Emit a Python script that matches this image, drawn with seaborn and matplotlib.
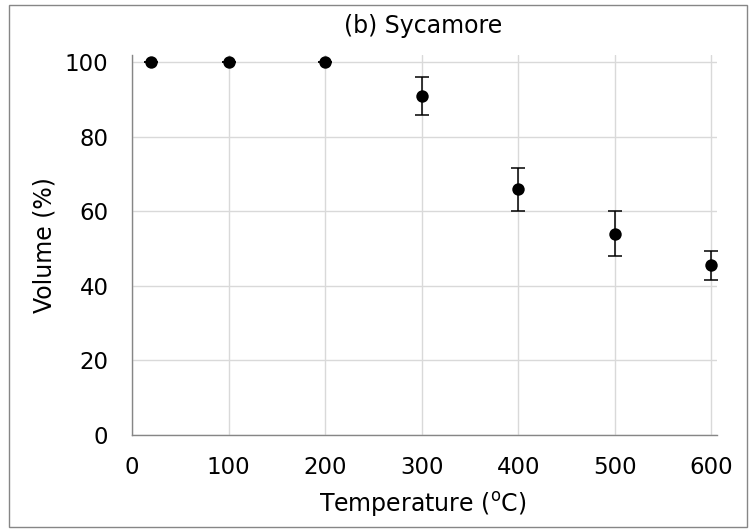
import seaborn as sns
import matplotlib.pyplot as plt
import pandas as pd
from matplotlib.patches import Rectangle

# Data
temperature = [20, 100, 200, 300, 400, 500, 600]
volume = [100, 100, 100, 91, 66, 54, 45.5]
volume_err = [0, 0, 0, 5, 5.8, 6, 3.8]

df = pd.DataFrame({"Temperature": temperature, "Volume": volume, "err": volume_err})

sns.set_style("white")
plt.rcParams["font.family"] = ["DejaVu Sans"]
plt.rcParams["text.color"] = "black"
plt.rcParams["axes.labelcolor"] = "black"

fig = plt.figure(figsize=(7.56, 5.32), dpi=100)
ax = fig.add_axes([132 / 756, 1 - 435 / 532, (717 - 132) / 756, (435 - 55) / 532])

# Error bars first, then the points on top
ax.errorbar(df["Temperature"], df["Volume"], yerr=df["err"], fmt="none",
            ecolor="black", elinewidth=1.1, capsize=5, capthick=1.1, zorder=2)
sns.scatterplot(x="Temperature", y="Volume", data=df, color="black", s=80,
                edgecolor="black", linewidth=0, ax=ax, zorder=3)

ax.set_xlim(0, 606)
ax.set_ylim(0, 102)
ax.set_xticks([0, 100, 200, 300, 400, 500, 600])
ax.set_yticks([0, 20, 40, 60, 80, 100])

ax.grid(True, color="#d9d9d9", linewidth=1)
ax.set_axisbelow(True)
for side in ["top", "right"]:
    ax.spines[side].set_visible(False)
for side in ["left", "bottom"]:
    ax.spines[side].set_color("#868686")
    ax.spines[side].set_linewidth(1)
ax.tick_params(axis="both", which="both", direction="out", length=6, width=1,
               color="#868686", labelcolor="black", labelsize=16.5)
ax.tick_params(axis="y", pad=11)
ax.tick_params(axis="x", pad=9)

ax.set_xlabel("Temperature ($^{\\mathrm{o}}$C)", fontsize=17, va="center")
ax.xaxis.set_label_coords(0.497, -0.184)
ax.set_ylabel("Volume (%)", fontsize=17, va="center")
ax.yaxis.set_label_coords(-0.150, 0.5)
fig.text(423 / 756, 1 - 26 / 532, "(b) Sycamore", ha="center", va="center", fontsize=17)

# Outer border around the chart area
fig.patches.append(Rectangle((9 / 756, 5 / 532), (747 - 9) / 756, (527 - 5) / 532,
                             transform=fig.transFigure, fill=False,
                             edgecolor="#868686", linewidth=1))

plt.savefig("out.png", dpi=100)
